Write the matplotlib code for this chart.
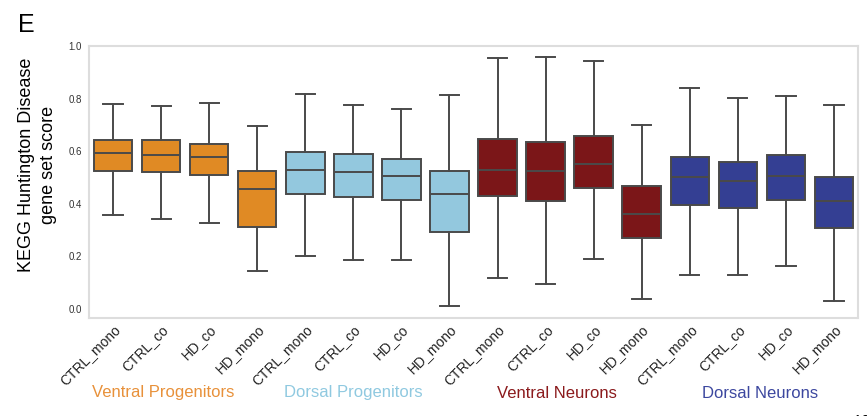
import matplotlib
matplotlib.use('Agg')
import matplotlib.pyplot as plt

plt.rcParams['font.family'] = ['Liberation Sans', 'DejaVu Sans']

# conditions per cell type group
conditions = ['CTRL_mono', 'CTRL_co', 'HD_co', 'HD_mono']
groups = ['Ventral Progenitors', 'Dorsal Progenitors', 'Ventral Neurons', 'Dorsal Neurons']
group_colors = ['#E08A24', '#93C8DE', '#7B1618', '#343F93']
label_colors = ['#E8913A', '#8FC9E0', '#8B1A1C', '#3C479F']

# box statistics (whisker low, Q1, median, Q3, whisker high)
whislo = [0.356, 0.341, 0.326, 0.145,
          0.201, 0.187, 0.185, 0.009,
          0.117, 0.095, 0.190, 0.036,
          0.129, 0.127, 0.163, 0.029]
q1 = [0.526, 0.522, 0.508, 0.310,
      0.438, 0.427, 0.414, 0.291,
      0.431, 0.412, 0.459, 0.271,
      0.396, 0.385, 0.415, 0.308]
med = [0.591, 0.587, 0.579, 0.456,
       0.527, 0.519, 0.504, 0.435,
       0.529, 0.524, 0.551, 0.362,
       0.501, 0.485, 0.505, 0.412]
q3 = [0.644, 0.644, 0.628, 0.524,
      0.596, 0.588, 0.571, 0.523,
      0.645, 0.633, 0.658, 0.468,
      0.576, 0.558, 0.586, 0.501]
whishi = [0.779, 0.772, 0.783, 0.694,
          0.817, 0.776, 0.760, 0.812,
          0.953, 0.958, 0.942, 0.701,
          0.841, 0.804, 0.810, 0.777]

tick_labels = conditions * len(groups)

stats = []
for i in range(len(med)):
    stats.append(dict(whislo=whislo[i], q1=q1[i], med=med[i], q3=q3[i],
                      whishi=whishi[i], fliers=[], label=tick_labels[i]))

fig = plt.figure(figsize=(8.67, 4.16), dpi=100)
ax = fig.add_axes([0.1027, 0.2356, 0.8869, 0.6538])

edge = '#4A4A4A'
bp = ax.bxp(stats, positions=range(len(stats)), widths=0.8, capwidths=0.4,
            patch_artist=True, showfliers=False,
            boxprops=dict(edgecolor=edge, linewidth=1.4),
            medianprops=dict(color=edge, linewidth=1.4),
            whiskerprops=dict(color=edge, linewidth=1.4),
            capprops=dict(color=edge, linewidth=1.4))
for i, box in enumerate(bp['boxes']):
    box.set_facecolor(group_colors[i // 4])

ax.set_xlim(-0.5, len(stats) - 0.5)
ax.set_ylim(-0.035, 1.0)
ax.set_yticks([0.0, 0.2, 0.4, 0.6, 0.8, 1.0])
ax.set_yticklabels(['0.0', '0.2', '0.4', '0.6', '0.8', '1.0'], fontsize=7, color='#333333')
ax.set_xticks(range(len(stats)))
ax.set_xticklabels(tick_labels, rotation=45, ha='right', rotation_mode='anchor',
                   fontsize=10, color='#222222')
ax.tick_params(axis='both', length=0, pad=5)
ax.tick_params(axis='x', pad=3)
for sp in ax.spines.values():
    sp.set_color('#DDDDDD')
    sp.set_linewidth(1.5)

fig.text(0.0435, 0.603, 'KEGG Huntington Disease\ngene set score', rotation=90,
         ha='center', va='center', fontsize=13, linespacing=1.4)
fig.text(0.021, 0.94, 'E', fontsize=18, ha='left', va='center')

# group names under the tick labels
group_x = [163, 353, 557, 760]
for name, gx, col in zip(groups, group_x, label_colors):
    fig.text(gx / 867, 1 - 393 / 416, name, ha='center', va='center',
             fontsize=12, color=col)

fig.text(0.985, -0.012, '12', ha='left', va='center', fontsize=10)

fig.savefig('out.png', dpi=100)
